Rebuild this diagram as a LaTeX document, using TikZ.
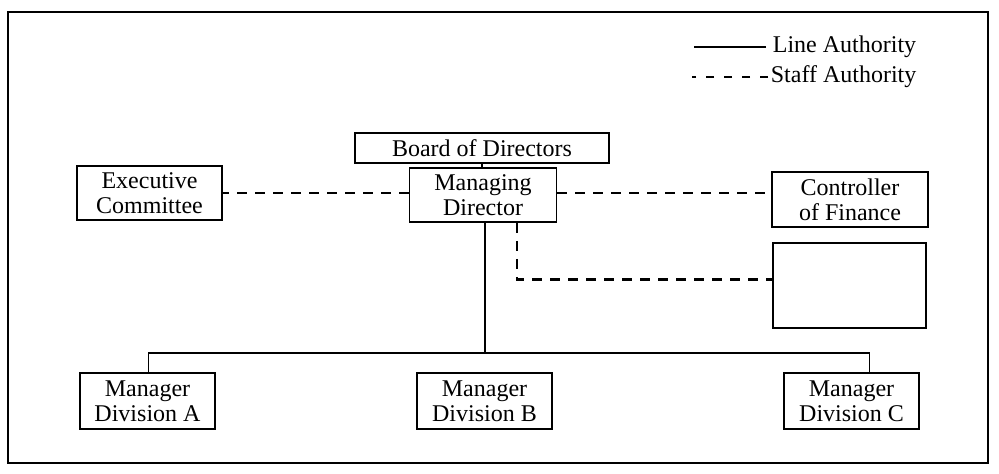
\documentclass[tikz,border=0pt]{standalone}
\usepackage{fontspec}
\setmainfont{Liberation Serif}
\usetikzlibrary{positioning}

\begin{document}
\begin{tikzpicture}[x=0.5pt,y=-0.5pt,% pixel grid, y runs downwards
        line width=0.85pt,
        every node/.style={font=\fontsize{12}{12.5}\selectfont},
        post/.style={draw,align=center,inner sep=1pt,minimum height=27pt},% a box of the chart
        staff/.style={line width=1.1pt,dash pattern=on 5pt off 4pt}]% staff authority
\useasboundingbox (0,0) rectangle (999,473);
\draw (8,12) rectangle (988,463); % frame round the chart

% legend
\node[anchor=west,inner sep=0pt] (lineleg) at (772,47) {Line Authority};
\node[anchor=west,inner sep=0pt] (staffleg) at (770,77) {Staff Authority};
\draw ([xshift=-3pt]lineleg.west) -- ++(-72,0);
\draw[staff,dash pattern=on 4pt off 5pt] ([xshift=-1pt]staffleg.west) -- ++(-76,0);

% the posts
\node[post,minimum width=127pt,minimum height=15pt] (board) at (482,148) {Board of Directors};
\node[post,minimum width=72.5pt] (exec) at (149.5,193) {Executive\\Committee};
\node[post,minimum width=73.5pt] (md) at (483,195) {Managing\\Director};
\node[post,minimum width=78pt,minimum height=27.5pt] (cof) at (850,199.5) {Controller\\of Finance};
\node[post,minimum width=76.5pt,minimum height=42.5pt] (blank) at (849.5,285.5) {};
\foreach \d/\x in {A/147.5,B/484.5,C/851.5}{ %\d is the division, \x its place
\node[post,minimum width=67.5pt,minimum height=28pt] (div\d) at (\x,401) {Manager\\Division \d};
}

% line authority
\draw (board.south) -- (board.south |- md.north);
\coordinate (bus) at (485,353);
\draw (md.south -| bus) -- (bus);
\draw ([xshift=0.5pt]divA.north) |- (bus) -| ([xshift=9pt]divC.north);

% staff authority
\draw[staff] ([yshift=1pt]md.west) -- ([yshift=1pt]md.west -| exec.east);
\draw[staff] ([yshift=1pt]md.east) -- ([yshift=1pt]md.east -| cof.west);
\draw[staff] ([xshift=17pt]md.south) |- ([yshift=3pt]blank.west);
\end{tikzpicture}
\end{document}
